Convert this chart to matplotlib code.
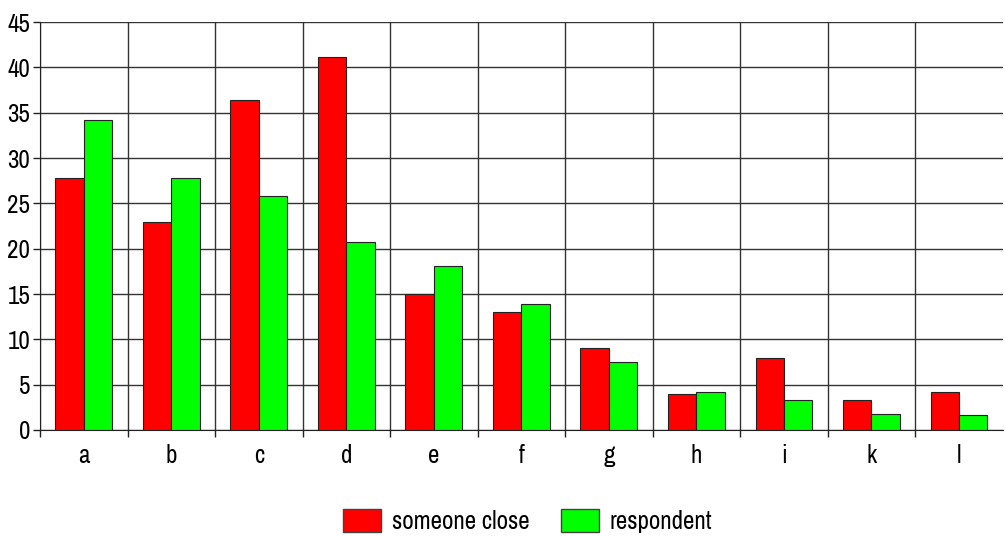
import numpy as np
import matplotlib.pyplot as plt
from matplotlib import font_manager
from matplotlib.patches import Patch

categories = ["a", "b", "c", "d", "e", "f", "g", "h", "i", "k", "l"]
someone_close = [27.8, 22.9, 36.4, 41.2, 15.0, 13.0, 9.0, 4.0, 7.9, 3.3, 4.2]
respondent = [34.2, 27.8, 25.8, 20.7, 18.1, 13.9, 7.5, 4.2, 3.3, 1.8, 1.7]
y_ticks = [0, 5, 10, 15, 20, 25, 30, 35, 40, 45]

# look for a condensed face, the reference uses a narrow sans
fam, stretch = "Liberation Sans", "normal"
for f in font_manager.fontManager.ttflist:
    if "Narrow" in f.name or "Condensed" in f.name:
        fam, stretch = f.name, "normal"
        break
else:
    for f in font_manager.fontManager.ttflist:
        if f.name == "DejaVu Sans" and "Condensed" in f.fname:
            fam, stretch = "DejaVu Sans", "condensed"
            break
plt.rcParams["font.family"] = [fam, "DejaVu Sans"]
plt.rcParams["font.stretch"] = stretch

fs = 18

fig = plt.figure(figsize=(10.05, 5.36), dpi=100)
ax = fig.add_axes([0.0398, 0.1978, 0.958, 0.761])

x = np.arange(len(categories))
w = 0.325
ax.bar(x - w / 2, someone_close, w, color="#ff0000", edgecolor="#222222", linewidth=0.8, zorder=3)
ax.bar(x + w / 2, respondent, w, color="#00ff00", edgecolor="#222222", linewidth=0.8, zorder=3)

ax.set_xlim(-0.5, len(categories) - 0.5)
ax.set_ylim(0, 45)
ax.set_yticks(y_ticks)
ax.set_xticks(x)
ax.set_xticklabels(categories)
ax.set_xticks(np.arange(len(categories)) - 0.5, minor=True)

ax.tick_params(axis="y", length=5, width=1, labelsize=fs, pad=2, color="#222222")
ax.tick_params(axis="x", which="major", length=0, labelsize=fs, pad=10)
ax.tick_params(axis="x", which="minor", length=5, width=1, color="#222222")

ax.grid(axis="y", color="#333333", linewidth=1, zorder=0)
ax.grid(axis="x", which="minor", color="#333333", linewidth=1, zorder=0)
ax.set_axisbelow(True)

for s in ["top", "right"]:
    ax.spines[s].set_visible(False)
ax.spines["left"].set_color("#222222")
ax.spines["bottom"].set_color("#222222")

handles = [Patch(facecolor="#ff0000", edgecolor="#444444", label="someone close"),
           Patch(facecolor="#00ff00", edgecolor="#444444", label="respondent")]
fig.legend(handles=handles, loc="center", bbox_to_anchor=(0.525, 0.028), ncol=2,
           frameon=False, fontsize=fs, handlelength=1.52, handleheight=1.04,
           columnspacing=1.25, handletextpad=0.42)

fig.savefig("out.png", dpi=100)
